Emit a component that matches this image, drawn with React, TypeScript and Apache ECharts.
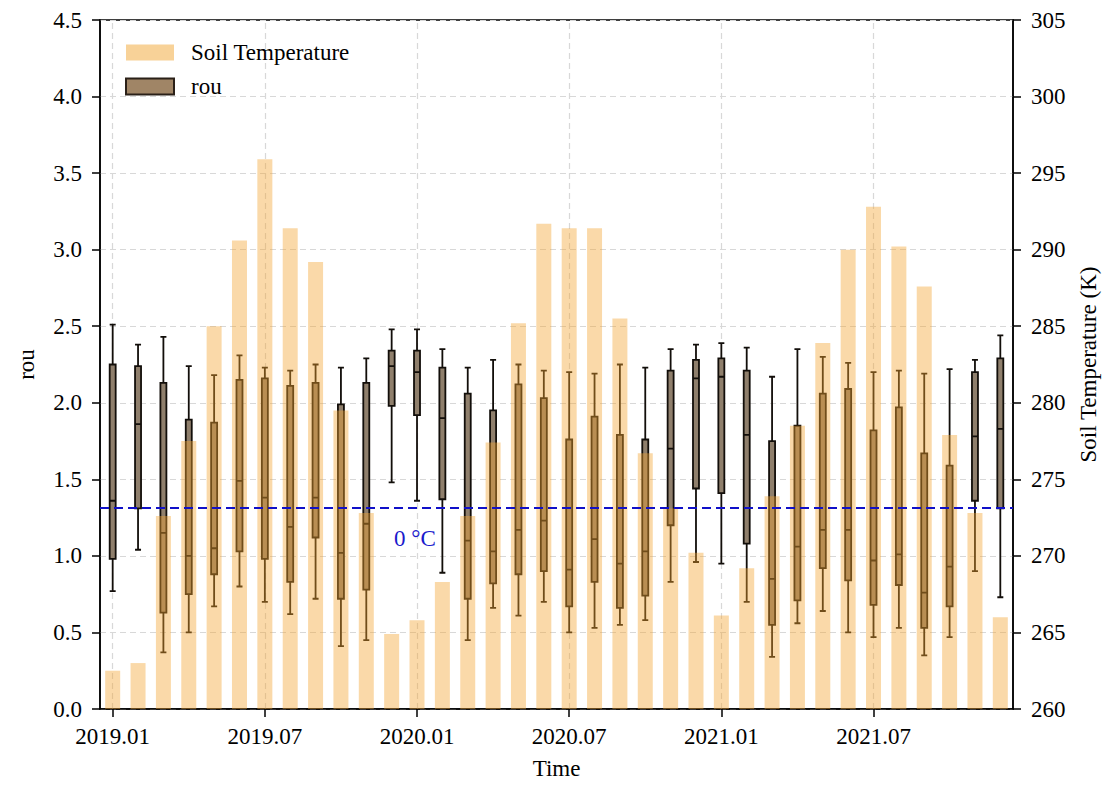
import React, { useEffect, useRef } from "react";
import * as echarts from "echarts";

const months: string[] = [
  "2019.01","2019.02","2019.03","2019.04","2019.05","2019.06","2019.07","2019.08","2019.09","2019.10","2019.11","2019.12",
  "2020.01","2020.02","2020.03","2020.04","2020.05","2020.06","2020.07","2020.08","2020.09","2020.10","2020.11","2020.12",
  "2021.01","2021.02","2021.03","2021.04","2021.05","2021.06","2021.07","2021.08","2021.09","2021.10","2021.11","2021.12",
];

// Soil temperature (K)
const soilTemp: number[] = [
  262.5, 263.0, 272.6, 277.5, 285.0, 290.6, 295.9, 291.4, 289.2, 279.5, 272.8, 264.9,
  265.8, 268.3, 272.6, 277.4, 285.2, 291.7, 291.4, 291.4, 285.5, 276.7, 273.1, 270.2,
  266.1, 269.2, 273.9, 278.5, 283.9, 290.0, 292.8, 290.2, 287.6, 277.9, 272.8, 266.0,
];

// rou: [lower whisker, Q1, median, Q3, upper whisker]
const rouLow: number[] = [
  0.77, 1.04, 0.37, 0.50, 0.67, 0.80, 0.70, 0.62, 0.72, 0.41, 0.45, 1.48,
  1.36, 0.89, 0.45, 0.66, 0.61, 0.70, 0.50, 0.53, 0.55, 0.58, 0.83, 0.96,
  0.95, 0.70, 0.34, 0.56, 0.64, 0.50, 0.47, 0.53, 0.35, 0.47, 0.90, 0.73,
];
const rouQ1: number[] = [
  0.98, 1.31, 0.63, 0.75, 0.88, 1.03, 0.98, 0.83, 1.12, 0.72, 0.78, 1.98,
  1.92, 1.37, 0.72, 0.82, 0.88, 0.90, 0.67, 0.83, 0.66, 0.74, 1.20, 1.44,
  1.41, 1.08, 0.55, 0.71, 0.92, 0.84, 0.68, 0.81, 0.53, 0.67, 1.36, 1.31,
];
const rouMedian: number[] = [
  1.36, 1.86, 1.15, 1.00, 1.05, 1.49, 1.38, 1.19, 1.38, 1.02, 1.21, 2.24,
  2.20, 1.90, 1.10, 1.03, 1.17, 1.23, 0.91, 1.11, 0.95, 1.03, 1.70, 2.16,
  2.17, 1.79, 0.85, 1.06, 1.17, 1.17, 0.97, 1.01, 0.76, 0.93, 1.78, 1.83,
];
const rouQ3: number[] = [
  2.25, 2.24, 2.13, 1.89, 1.87, 2.15, 2.16, 2.11, 2.13, 1.99, 2.13, 2.34,
  2.34, 2.23, 2.06, 1.95, 2.12, 2.03, 1.76, 1.91, 1.79, 1.76, 2.21, 2.28,
  2.29, 2.21, 1.75, 1.85, 2.06, 2.09, 1.82, 1.97, 1.67, 1.59, 2.20, 2.29,
];
const rouHigh: number[] = [
  2.51, 2.38, 2.43, 2.24, 2.18, 2.31, 2.23, 2.21, 2.25, 2.23, 2.29, 2.48,
  2.48, 2.35, 2.23, 2.28, 2.25, 2.21, 2.20, 2.19, 2.25, 2.23, 2.35, 2.38,
  2.39, 2.36, 2.17, 2.35, 2.30, 2.26, 2.20, 2.21, 2.19, 2.22, 2.28, 2.44,
];

const gridMonths: string[] = ["2019.01", "2019.07", "2020.01", "2020.07", "2021.01", "2021.07"];
const zeroCelsiusK = 273.15;

const FONT = "Liberation Serif";
const FS = 23;

export default function App() {
  const ref = useRef<HTMLDivElement>(null);
  useEffect(() => {
    if (!ref.current) return;
    const chart = echarts.init(ref.current, null, { renderer: "svg" });
    const boxData = months.map((_, i) => [rouLow[i], rouQ1[i], rouMedian[i], rouQ3[i], rouHigh[i]]);
    chart.setOption({
      animation: false,
      backgroundColor: "#fff",
      textStyle: { fontFamily: FONT, color: "#000" },
      grid: {
        left: 100, right: 106, top: 20, bottom: 70,
        show: true, borderColor: "#000", borderWidth: 1.5,
      },
      legend: {
        left: 120, top: 36, orient: "vertical",
        itemWidth: 48, itemHeight: 16, itemGap: 11,
        icon: "rect",
        data: [
          { name: "Soil Temperature", itemStyle: { color: "rgba(242,165,50,0.5)" } },
          { name: "rou", itemStyle: { color: "#a08566", borderColor: "#2a2018", borderWidth: 2 } },
        ],
        textStyle: { fontFamily: FONT, fontSize: 23, color: "#000", padding: [0, 0, 0, 12] },
      },
      xAxis: {
        type: "category",
        data: months,
        boundaryGap: true,
        name: "Time",
        nameLocation: "middle",
        nameGap: 48,
        nameTextStyle: { fontFamily: FONT, fontSize: FS, color: "#000" },
        axisLine: { lineStyle: { color: "#000", width: 1.5 } },
        axisTick: { show: true, interval: 5, alignWithLabel: true, length: 8, lineStyle: { color: "#000", width: 1.5 } },
        axisLabel: { interval: 5, fontFamily: FONT, fontSize: FS, color: "#000", margin: 16 },
        splitLine: { show: false },
      },
      yAxis: [
        {
          type: "value", min: 0, max: 4.5, interval: 0.5,
          name: "rou", nameLocation: "middle", nameGap: 62,
          nameTextStyle: { fontFamily: FONT, fontSize: FS, color: "#000" },
          axisLine: { show: true, lineStyle: { color: "#000", width: 1.5 } },
          axisTick: { show: true, length: 8, lineStyle: { color: "#000", width: 1.5 } },
          axisLabel: { fontFamily: FONT, fontSize: FS, color: "#000", margin: 18, formatter: (v: number) => v.toFixed(1) },
          splitLine: { show: true, lineStyle: { color: "#d8d8d8", width: 1.2, type: [6, 4] } },
        },
        {
          type: "value", min: 260, max: 305, interval: 5, position: "right",
          name: "Soil Temperature (K)", nameLocation: "middle", nameGap: 64,
          nameTextStyle: { fontFamily: FONT, fontSize: FS, color: "#000" },
          axisLine: { show: true, lineStyle: { color: "#000", width: 1.5 } },
          axisTick: { show: true, length: 8, lineStyle: { color: "#000", width: 1.5 } },
          axisLabel: { fontFamily: FONT, fontSize: FS, color: "#000", margin: 18 },
          splitLine: { show: false },
        },
      ],
      series: [
        {
          name: "grid-x",
          type: "line",
          data: [],
          z: 0,
          silent: true,
          markLine: {
            silent: true,
            z: 0,
            symbol: "none",
            label: { show: false },
            lineStyle: { color: "#d8d8d8", width: 1.2, type: [6, 4] },
            data: gridMonths.map((m) => ({ xAxis: m })),
          },
        },
        {
          name: "rou",
          type: "boxplot",
          yAxisIndex: 0,
          z: 2,
          boxWidth: [6, 6],
          data: boxData,
          itemStyle: { color: "#8f7f6c", borderColor: "#120e0a", borderWidth: 1.8 },
        },
        {
          name: "Soil Temperature",
          type: "bar",
          yAxisIndex: 1,
          z: 3,
          barWidth: 15,
          data: soilTemp,
          itemStyle: { color: "rgba(242,165,50,0.42)" },
        },
        {
          name: "zero-line",
          type: "line",
          yAxisIndex: 1,
          data: [],
          z: 5,
          silent: true,
          markLine: {
            silent: true,
            z: 10,
            symbol: "none",
            label: { show: false },
            lineStyle: { color: "#1010c8", width: 2, type: [9, 5] },
            data: [{ yAxis: zeroCelsiusK }],
          },
        },
      ],
      graphic: [
        {
          type: "text",
          left: 394,
          top: 527,
          z: 10,
          style: { text: "0 °C", fontFamily: FONT, fontSize: FS, fill: "#1a1acc" },
        },
      ],
    });
    return () => chart.dispose();
  }, []);
  return (
    <div
      ref={ref}
      style={{ position: "fixed", left: 0, top: 0, width: 1119, height: 785, background: "#fff" }}
    />
  );
}
